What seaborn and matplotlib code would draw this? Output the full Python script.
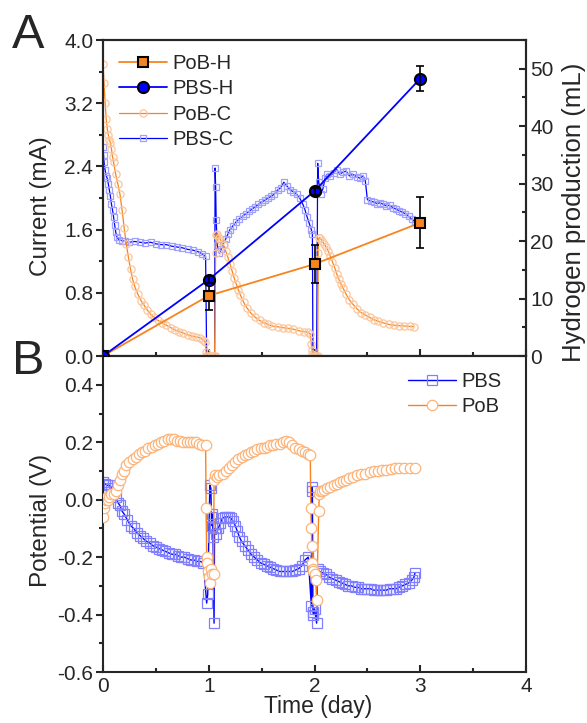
"""
Current / hydrogen production and electrode potential over three feeding cycles.
"""

import numpy as np
import pandas as pd
import matplotlib
matplotlib.use("Agg")
import matplotlib.pyplot as plt
import seaborn as sns
from matplotlib.ticker import MultipleLocator, FormatStrFormatter

sns.set_style("ticks")
plt.rcParams['font.family'] = ['Liberation Sans', 'DejaVu Sans']
plt.rcParams['axes.unicode_minus'] = False
plt.rcParams['axes.linewidth'] = 1.5

# --- hydrogen production (mL) ---
h_days = [0, 1, 2, 3]
pob_h = [0, 10.5, 16.0, 23.2]
pob_h_err = [0, 2.5, 3.3, 4.4]
pbs_h = [0, 13.3, 28.7, 48.3]
pbs_h_err = [0, 0.6, 0.6, 2.2]

# --- current (mA) ---
pob_c_t = [0.00, 0.01, 0.02, 0.03, 0.04, 0.05, 0.06, 0.07, 0.08, 0.09, 0.10, 0.12, 0.14, 0.16, 0.18,
           0.20, 0.22, 0.24, 0.26, 0.28, 0.30, 0.33, 0.36, 0.39, 0.42, 0.45, 0.48, 0.52, 0.56, 0.60,
           0.64, 0.68, 0.72, 0.76, 0.80, 0.84, 0.88, 0.92, 0.95, 0.965, 0.975, 0.985, 1.00, 1.02, 1.04,
           1.055, 1.065, 1.07, 1.08, 1.10, 1.12, 1.14, 1.16, 1.18, 1.20, 1.22, 1.24, 1.26, 1.28, 1.30,
           1.33, 1.36, 1.40, 1.44, 1.48, 1.52, 1.56, 1.60, 1.65, 1.70, 1.75, 1.80, 1.85, 1.90, 1.94,
           1.96, 1.97, 1.975, 1.98, 1.99, 2.00, 2.02, 2.03, 2.035, 2.04, 2.05, 2.07, 2.09, 2.11, 2.13,
           2.15, 2.17, 2.19, 2.21, 2.23, 2.25, 2.27, 2.30, 2.33, 2.36, 2.40, 2.44, 2.48, 2.52, 2.56,
           2.60, 2.65, 2.70, 2.75, 2.80, 2.85, 2.90, 2.94]
pob_c = [3.70, 3.45, 3.20, 3.00, 2.88, 2.80, 2.74, 2.70, 2.62, 2.52, 2.45, 2.30, 2.18, 2.05, 1.85,
         1.62, 1.42, 1.25, 1.10, 0.97, 0.88, 0.78, 0.70, 0.64, 0.58, 0.53, 0.49, 0.45, 0.42, 0.39,
         0.36, 0.33, 0.31, 0.29, 0.27, 0.25, 0.24, 0.23, 0.20, 0.18, 0.05, 0.00, 0.00, 0.00, 0.00,
         0.00, 1.30, 1.53, 1.55, 1.50, 1.45, 1.40, 1.33, 1.25, 1.17, 1.08, 0.99, 0.91, 0.84, 0.77,
         0.68, 0.61, 0.54, 0.49, 0.45, 0.42, 0.40, 0.38, 0.37, 0.36, 0.35, 0.34, 0.32, 0.31, 0.30,
         0.28, 0.15, 0.08, 0.03, 0.00, 0.00, 0.00, 0.00, 1.30, 1.49, 1.50, 1.46, 1.42, 1.38, 1.33,
         1.26, 1.19, 1.12, 1.04, 0.97, 0.91, 0.86, 0.78, 0.71, 0.66, 0.60, 0.55, 0.52, 0.49, 0.46,
         0.44, 0.42, 0.40, 0.39, 0.385, 0.38, 0.375, 0.37]

pbs_c_t = [0.00, 0.005, 0.01, 0.02, 0.03, 0.04, 0.05, 0.06, 0.07, 0.08, 0.09, 0.10, 0.11, 0.12, 0.13,
           0.15, 0.18, 0.21, 0.25, 0.30, 0.35, 0.40, 0.45, 0.50, 0.55, 0.60, 0.65, 0.70, 0.75, 0.80,
           0.85, 0.90, 0.94, 0.97, 0.98, 1.00, 1.03, 1.055, 1.06, 1.065, 1.07, 1.08, 1.10, 1.12, 1.14,
           1.16, 1.18, 1.20, 1.23, 1.26, 1.29, 1.32, 1.35, 1.38, 1.41, 1.44, 1.47, 1.50, 1.53, 1.56,
           1.59, 1.62, 1.65, 1.68, 1.71, 1.74, 1.77, 1.80, 1.83, 1.86, 1.89, 1.91, 1.93, 1.95, 1.97,
           1.98, 1.985, 2.00, 2.02, 2.03, 2.04, 2.06, 2.08, 2.10, 2.12, 2.15, 2.18, 2.21, 2.24, 2.27,
           2.30, 2.33, 2.36, 2.40, 2.43, 2.46, 2.48, 2.50, 2.53, 2.56, 2.59, 2.62, 2.65, 2.68, 2.71,
           2.74, 2.77, 2.80, 2.83, 2.86, 2.89, 2.92, 2.95]
pbs_c = [2.65, 2.55, 2.45, 2.35, 2.28, 2.25, 2.18, 2.10, 2.02, 1.92, 1.85, 1.76, 1.66, 1.57, 1.51,
         1.47, 1.46, 1.45, 1.44, 1.45, 1.44, 1.43, 1.44, 1.42, 1.41, 1.41, 1.39, 1.38, 1.37, 1.35,
         1.34, 1.32, 1.29, 1.26, 0.00, 0.00, 0.00, 0.00, 2.38, 2.14, 1.72, 1.40, 1.30, 1.36, 1.42,
         1.48, 1.54, 1.60, 1.65, 1.70, 1.74, 1.77, 1.80, 1.83, 1.86, 1.89, 1.92, 1.95, 1.97, 2.00,
         2.02, 2.05, 2.10, 2.13, 2.20, 2.15, 2.10, 2.08, 2.05, 2.00, 1.92, 1.85, 1.76, 1.68, 1.60,
         1.55, 0.00, 0.00, 0.00, 2.44, 2.20, 2.05, 2.12, 2.25, 2.30, 2.28, 2.32, 2.36, 2.30, 2.33,
         2.34, 2.28, 2.30, 2.27, 2.25, 2.28, 2.22, 1.98, 1.96, 1.95, 1.93, 1.94, 1.92, 1.90, 1.91,
         1.88, 1.86, 1.84, 1.82, 1.80, 1.77, 1.73, 1.70]

# --- anode potential (V) ---
pob_v_t = [0.00, 0.01, 0.02, 0.03, 0.04, 0.05, 0.06, 0.08, 0.10, 0.12, 0.14, 0.16, 0.18, 0.20, 0.22,
           0.25, 0.28, 0.31, 0.34, 0.37, 0.40, 0.43, 0.46, 0.49, 0.52, 0.55, 0.58, 0.61, 0.64, 0.67,
           0.70, 0.73, 0.76, 0.79, 0.82, 0.85, 0.88, 0.91, 0.94, 0.97, 0.975, 0.98, 0.985, 0.99, 1.00,
           1.01, 1.02, 1.03, 1.045, 1.05, 1.06, 1.08, 1.10, 1.13, 1.16, 1.19, 1.22, 1.25, 1.28, 1.31,
           1.34, 1.37, 1.40, 1.43, 1.46, 1.49, 1.52, 1.55, 1.58, 1.61, 1.64, 1.67, 1.70, 1.73, 1.76,
           1.79, 1.82, 1.85, 1.88, 1.91, 1.94, 1.96, 1.965, 1.97, 1.975, 1.98, 1.985, 1.99, 2.00, 2.01,
           2.02, 2.04, 2.045, 2.05, 2.07, 2.09, 2.12, 2.15, 2.18, 2.21, 2.24, 2.27, 2.30, 2.33, 2.36,
           2.40, 2.44, 2.48, 2.52, 2.56, 2.60, 2.64, 2.68, 2.72, 2.76, 2.80, 2.85, 2.90, 2.95]
pob_v = [-0.06, -0.03, -0.01, 0.00, 0.01, 0.00, 0.01, 0.02, 0.02, 0.03, 0.05, 0.07, 0.09, 0.10, 0.12,
         0.13, 0.14, 0.15, 0.16, 0.165, 0.17, 0.18, 0.185, 0.19, 0.195, 0.20, 0.205, 0.21, 0.21, 0.21,
         0.205, 0.205, 0.20, 0.20, 0.20, 0.20, 0.20, 0.195, 0.19, 0.19, -0.03, -0.20, -0.22, -0.25, -0.27,
         -0.29, -0.24, -0.26, -0.26, 0.07, 0.085, 0.08, 0.085, 0.09, 0.10, 0.11, 0.12, 0.13, 0.14, 0.15,
         0.155, 0.16, 0.165, 0.17, 0.175, 0.18, 0.18, 0.185, 0.19, 0.19, 0.195, 0.195, 0.20, 0.205, 0.20,
         0.19, 0.18, 0.175, 0.17, 0.165, 0.16, 0.155, -0.03, -0.10, -0.16, -0.22, -0.24, -0.25, -0.26, -0.28,
         -0.35, -0.04, 0.02, 0.03, 0.03, 0.035, 0.04, 0.045, 0.05, 0.055, 0.06, 0.065, 0.07, 0.075, 0.08,
         0.085, 0.09, 0.09, 0.095, 0.10, 0.10, 0.105, 0.105, 0.108, 0.11, 0.11, 0.11, 0.112, 0.11]

pbs_v_t = [0.00, 0.02, 0.04, 0.06, 0.08, 0.10, 0.12, 0.14, 0.16, 0.18, 0.20, 0.23, 0.26, 0.29, 0.32,
           0.35, 0.38, 0.41, 0.44, 0.47, 0.50, 0.53, 0.56, 0.59, 0.62, 0.65, 0.68, 0.71, 0.74, 0.77,
           0.80, 0.83, 0.86, 0.89, 0.92, 0.95, 0.98, 0.99, 1.01, 1.02, 1.025, 1.03, 1.035, 1.04, 1.05,
           1.055, 1.07, 1.09, 1.11, 1.13, 1.15, 1.17, 1.19, 1.21, 1.23, 1.25, 1.27, 1.29, 1.31, 1.34,
           1.37, 1.40, 1.43, 1.46, 1.49, 1.52, 1.55, 1.58, 1.61, 1.64, 1.67, 1.70, 1.73, 1.76, 1.79,
           1.82, 1.85, 1.88, 1.91, 1.94, 1.97, 1.975, 1.98, 1.985, 1.99, 2.00, 2.02, 2.03, 2.05, 2.08,
           2.11, 2.14, 2.17, 2.20, 2.23, 2.26, 2.29, 2.32, 2.35, 2.38, 2.41, 2.44, 2.47, 2.50, 2.53,
           2.56, 2.59, 2.62, 2.65, 2.68, 2.71, 2.74, 2.77, 2.80, 2.83, 2.86, 2.89, 2.92, 2.94, 2.95]
pbs_v = [0.06, 0.055, 0.05, 0.05, 0.04, 0.03, 0.01, -0.01, -0.02, -0.04, -0.05, -0.07, -0.09, -0.10, -0.115,
         -0.125, -0.135, -0.145, -0.15, -0.16, -0.165, -0.17, -0.175, -0.18, -0.185, -0.19, -0.19, -0.195, -0.20, -0.20,
         -0.205, -0.21, -0.21, -0.215, -0.215, -0.22, -0.36, -0.33, 0.05, 0.04, -0.06, -0.09, -0.05, -0.13, -0.43,
         -0.10, -0.12, -0.10, -0.08, -0.065, -0.06, -0.06, -0.06, -0.065, -0.075, -0.09, -0.11, -0.13, -0.145, -0.16,
         -0.175, -0.19, -0.20, -0.21, -0.22, -0.225, -0.23, -0.235, -0.24, -0.245, -0.25, -0.25, -0.25, -0.25, -0.25,
         -0.245, -0.24, -0.23, -0.21, -0.20, -0.37, 0.045, 0.03, -0.39, -0.40, -0.38, -0.43, -0.24, -0.25, -0.255,
         -0.26, -0.27, -0.275, -0.28, -0.285, -0.29, -0.295, -0.30, -0.30, -0.305, -0.305, -0.31, -0.31, -0.31, -0.31,
         -0.315, -0.315, -0.315, -0.315, -0.315, -0.31, -0.31, -0.31, -0.305, -0.30, -0.295, -0.29, -0.28, -0.27, -0.255]

ORANGE = '#F7841E'
BLUE = '#0000FF'
TICK_FS = 15
LEG_FS = 14.5

fig = plt.figure(figsize=(5.87, 7.23), dpi=100)
ax = fig.add_axes([0.1755, 0.5076, 0.7206, 0.437])
ax_b = fig.add_axes([0.1755, 0.0705, 0.7206, 0.437])

# ---------------- panel A ----------------
sns.lineplot(x=pbs_c_t, y=pbs_c, ax=ax, sort=False, estimator=None, color=BLUE, lw=0.9,
             marker='s', markersize=5, markerfacecolor='none', markeredgecolor='#A0A0FF',
             markeredgewidth=0.9, label='PBS-C', zorder=2)
sns.lineplot(x=pob_c_t, y=pob_c, ax=ax, sort=False, estimator=None, color=ORANGE, lw=0.9,
             marker='o', markersize=5.2, markerfacecolor='none', markeredgecolor='#FBC69C',
             markeredgewidth=0.9, label='PoB-C', zorder=3)
ax.set_xlim(0, 4)
ax.set_ylim(0, 4)
ax.yaxis.set_major_locator(MultipleLocator(0.8))
ax.yaxis.set_minor_locator(MultipleLocator(0.4))
ax.yaxis.set_major_formatter(FormatStrFormatter('%.1f'))
ax.xaxis.set_major_locator(MultipleLocator(1))
ax.xaxis.set_minor_locator(MultipleLocator(0.5))
ax.tick_params(axis='x', which='both', direction='in', labelbottom=False, width=1.5)
ax.tick_params(axis='y', which='both', direction='out', width=1.5, labelsize=TICK_FS, pad=2)
ax.tick_params(which='major', length=5)
ax.tick_params(which='minor', length=3)
ax.set_ylabel('Current (mA)', fontsize=17.5)
ax.yaxis.set_label_coords(-0.12, 0.475)
ax.set_xlabel('')
ax.get_legend().remove()

ax2 = ax.twinx()
ax2.errorbar(h_days, pob_h, yerr=pob_h_err, fmt='none', ecolor='black', elinewidth=1.2,
             capsize=3, capthick=1.2, zorder=3)
sns.lineplot(x=h_days, y=pob_h, ax=ax2, sort=False, estimator=None, color=ORANGE, lw=1.3,
             marker='s', markersize=7, markerfacecolor=ORANGE, markeredgecolor='black',
             markeredgewidth=1.5, label='PoB-H', zorder=4)
sns.lineplot(x=h_days, y=pbs_h, ax=ax2, sort=False, estimator=None, color=BLUE, lw=1.3,
             marker='o', markersize=8, markerfacecolor=BLUE, markeredgecolor='black',
             markeredgewidth=1.5, label='PBS-H', zorder=5)
ax2.errorbar(h_days, pbs_h, yerr=pbs_h_err, fmt='none', ecolor='black', elinewidth=1.2,
             capsize=3, capthick=1.2, zorder=6)
ax2.set_ylim(0, 55)
ax2.yaxis.set_major_locator(MultipleLocator(10))
ax2.yaxis.set_minor_locator(MultipleLocator(5))
ax2.tick_params(axis='y', which='both', direction='in', width=1.5, labelsize=TICK_FS, pad=3)
ax2.tick_params(which='major', length=5)
ax2.tick_params(which='minor', length=3)
ax2.set_ylabel('Hydrogen production (mL)', fontsize=18.5)
ax2.yaxis.set_label_coords(1.085, 0.454)
ax2.get_legend().remove()

h1, l1 = ax2.get_legend_handles_labels()
h0, l0 = ax.get_legend_handles_labels()
lab_map = dict(zip(l1 + l0, h1 + h0))
order = ['PoB-H', 'PBS-H', 'PoB-C', 'PBS-C']
ax2.legend([lab_map[k] for k in order], order, loc='upper left', bbox_to_anchor=(0.019, 0.981),
           borderaxespad=0, frameon=False, fontsize=LEG_FS, handlelength=2.4, handletextpad=0.25,
           labelspacing=0.31)

# ---------------- panel B ----------------
sns.lineplot(x=pbs_v_t, y=pbs_v, ax=ax_b, sort=False, estimator=None, color=BLUE, lw=1.0,
             marker='s', markersize=6.5, markerfacecolor='none', markeredgecolor='#8080FF',
             markeredgewidth=0.9, label='PBS', zorder=2)
sns.lineplot(x=pob_v_t, y=pob_v, ax=ax_b, sort=False, estimator=None, color=ORANGE, lw=1.0,
             marker='o', markersize=7.5, markerfacecolor='white', markeredgecolor='#FDB47A',
             markeredgewidth=0.9, label='PoB', zorder=3)
ax_b.set_xlim(0, 4)
ax_b.set_ylim(-0.6, 0.5)
ax_b.yaxis.set_minor_locator(MultipleLocator(0.1))
ax_b.set_yticks([0.4, 0.2, 0.0, -0.2, -0.4, -0.6])
ax_b.yaxis.set_major_formatter(FormatStrFormatter('%.1f'))
ax_b.xaxis.set_major_locator(MultipleLocator(1))
ax_b.xaxis.set_minor_locator(MultipleLocator(0.5))
ax_b.tick_params(axis='x', which='both', direction='in', width=1.5, labelsize=TICK_FS)
ax_b.tick_params(axis='y', which='both', direction='out', width=1.5, labelsize=TICK_FS, pad=2)
ax_b.tick_params(which='major', length=5)
ax_b.tick_params(which='minor', length=3)
ax_b.set_ylabel('Potential (V)', fontsize=17.5)
ax_b.yaxis.set_label_coords(-0.12, 0.481)
ax_b.set_xlabel('Time (day)', fontsize=16.5)
ax_b.xaxis.set_label_coords(0.509, -0.073)
ax_b.legend(loc='upper left', bbox_to_anchor=(0.702, 0.975), borderaxespad=0, frameon=False,
            fontsize=LEG_FS, handlelength=2.4, handletextpad=0.25, labelspacing=0.31)

fig.text(28 / 587, 1 - 35 / 723, 'A', fontsize=35, ha='center', va='center')
fig.text(28 / 587, 1 - 362 / 723, 'B', fontsize=35, ha='center', va='center')

fig.savefig('out.png', dpi=100, facecolor='white')
